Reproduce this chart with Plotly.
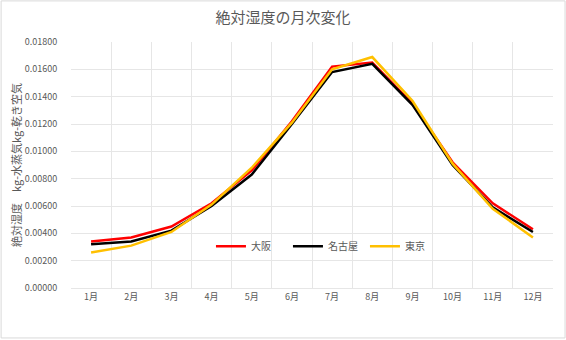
import plotly.graph_objects as go

months = ["1月", "2月", "3月", "4月", "5月", "6月", "7月", "8月", "9月", "10月", "11月", "12月"]
osaka = [0.0034, 0.0037, 0.0045, 0.0062, 0.0086, 0.0122, 0.0162, 0.0165, 0.0135, 0.0092, 0.0062, 0.0043]
nagoya = [0.0032, 0.0034, 0.0042, 0.0060, 0.0083, 0.0120, 0.0158, 0.0164, 0.0134, 0.0090, 0.0059, 0.0041]
tokyo = [0.0026, 0.0031, 0.0041, 0.0061, 0.0088, 0.0121, 0.0160, 0.0169, 0.0137, 0.0091, 0.0058, 0.0037]

font = "Noto Sans CJK JP"
grey = "#595959"

fig = go.Figure()
for name, vals, col in [("大阪", osaka, "#FF0000"), ("名古屋", nagoya, "#000000"), ("東京", tokyo, "#FFC000")]:
    fig.add_trace(go.Scatter(x=months, y=vals, name=name, mode="lines",
                             line=dict(color=col, width=2.5)))

fig.update_layout(
    width=566, height=340,
    margin=dict(l=71, r=13, t=42, b=52),
    paper_bgcolor="white", plot_bgcolor="white",
    font=dict(family=font, color=grey, size=9),
    title=dict(text="絶対湿度の月次変化", x=0.5, xanchor="center", y=0.947, yanchor="middle",
               font=dict(size=15, color=grey)),
    legend=dict(orientation="h", x=0.53, xanchor="center", y=0.17, yanchor="middle",
                bgcolor="rgba(0,0,0,0)", font=dict(size=10, color=grey),
                entrywidth=32, tracegroupgap=0),
    showlegend=True,
)
fig.update_xaxes(type="category", range=[-0.5, 11.5], tickson="boundaries", showgrid=True,
                 gridcolor="#e6e6e6", ticks="outside", ticklen=8, tickcolor="rgba(0,0,0,0)",
                 showline=True, linecolor="#e6e6e6", zeroline=False, automargin=False,
                 tickfont=dict(size=9, color=grey))
fig.update_yaxes(range=[0, 0.018], dtick=0.002, tickformat=".5f", showgrid=True,
                 gridcolor="#e6e6e6", zeroline=False, showline=False, automargin=False,
                 ticks="outside", ticklen=11, tickcolor="rgba(0,0,0,0)",
                 tickfont=dict(size=9, color=grey),
                 title=dict(text="絶対湿度　kg-水蒸気kg-乾き空気", font=dict(size=11, color=grey), standoff=0))

# outer chart border
fig.add_shape(type="rect", xref="paper", yref="paper",
              x0=-0.145, x1=1.025, y0=-0.203, y1=1.167,
              line=dict(color="#d9d9d9", width=1), layer="above")

fig.write_html("out.html", config={"displayModeBar": False},
               post_script="document.body.style.margin='0';")
